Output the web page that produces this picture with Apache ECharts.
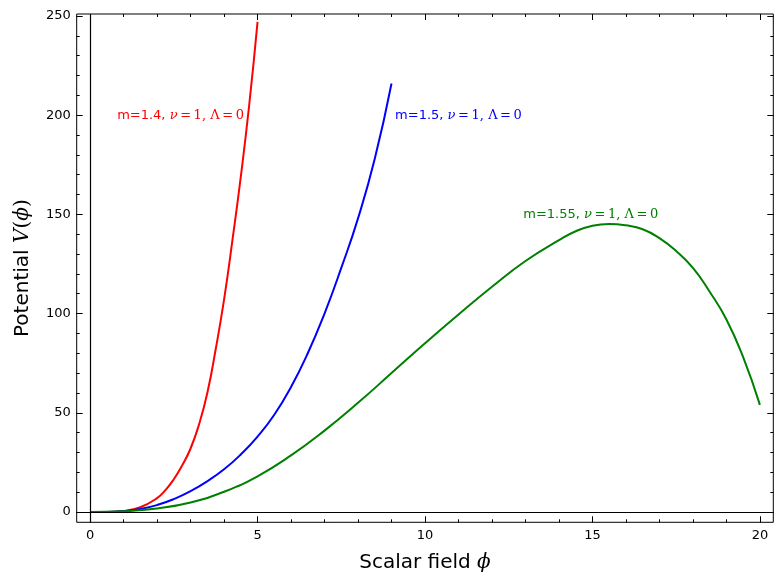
<!DOCTYPE html>
<html>
<head>
<meta charset="utf-8">
<script src="https://cdn.jsdelivr.net/npm/echarts@6/dist/echarts.min.js"></script>
<style>html,body{margin:0;padding:0;background:#fff}#c{width:782px;height:582px}</style>
</head>
<body>
<div id="c"></div>
<script>
// ---- data ----
const redX   = [0, 0.5, 1, 1.5, 2, 2.25, 2.5, 2.75, 3, 3.25, 3.5, 3.75, 4, 4.25, 4.5, 4.75, 5];
const redY   = [0, 0.04, 0.5, 2.4, 7, 11, 16.5, 23.5, 32, 44, 60, 82, 107, 137, 169, 205, 247];
const blueX  = [0, 0.5, 1, 1.5, 2, 2.5, 3, 3.5, 4, 4.5, 5, 5.5, 6, 6.5, 7, 7.5, 8, 8.5, 9];
const blueY  = [0, 0.05, 0.5, 1.5, 3.5, 6.5, 10.5, 15.5, 21.5, 29, 38, 49, 63, 80, 100, 123, 148, 178, 216];
const greenX = [0, 1, 2, 3, 4, 5, 6, 7, 8, 9, 10, 11, 12, 13, 14, 14.5, 15, 15.5, 16, 16.5, 17, 17.5, 18, 18.5, 19, 19.5, 20];
const greenY = [0, 0.4, 1.8, 4.8, 10.2, 18, 28.5, 41, 55, 70, 85, 99.5, 113.5, 126.5, 137, 141.5, 144.3, 145.2, 144.5, 142.5, 138, 131.5, 123, 111, 97, 78, 54];
const xMajorTicks = [0, 5, 10, 15, 20];
const xMinorTicks = [0,1,2,3,4,5,6,7,8,9,10,11,12,13,14,15,16,17,18,19,20];
const yMajorTicks = [0, 50, 100, 150, 200, 250];
const yMinorTicks = [0,10,20,30,40,50,60,70,80,90,100,110,120,130,140,150,160,170,180,190,200,210,220,230,240,250];
const labels = [
  {m: '1.4',  pos: [2.7, 200],  color: '#ff0000'},
  {m: '1.5',  pos: [11.0, 200], color: '#0000ff'},
  {m: '1.55', pos: [14.95, 150], color: '#008000'}
];
// --------------------------------------

const XMIN = -0.4, XMAX = 20.4, YMIN = -5.2, YMAX = 251;
const zip = (xs, ys) => xs.map((x, i) => [x, ys[i]]);
const TS = '\u2009';

function xAx(pos, ticks, len, showLabel, extra) {
  return Object.assign({
    type: 'value', min: XMIN, max: XMAX, position: pos,
    axisLine: {show: false, onZero: false},
    axisTick: {show: true, inside: true, length: len, customValues: ticks, lineStyle: {color: '#000', width: 1}},
    axisLabel: showLabel ? {show: true, customValues: xMajorTicks, color: '#000', fontSize: 13, fontFamily: 'DejaVu Sans', margin: 7} : {show: false},
    splitLine: {show: false}
  }, extra || {});
}
function yAx(pos, ticks, len, showLabel, extra) {
  return Object.assign({
    type: 'value', min: YMIN, max: YMAX, position: pos,
    axisLine: {show: false, onZero: false},
    axisTick: {show: true, inside: true, length: len, customValues: ticks, lineStyle: {color: '#000', width: 1}},
    axisLabel: showLabel ? {show: true, customValues: yMajorTicks, color: '#000', fontSize: 13, fontFamily: 'DejaVu Sans', margin: 6} : {show: false},
    splitLine: {show: false}
  }, extra || {});
}

function lbl(l) {
  return {
    symbol: 'circle', symbolSize: 0, silent: true,
    data: [{coord: l.pos}],
    label: {
      show: true, position: 'inside', color: l.color,
      formatter: '{a|m=' + l.m + ', }{b|ν}{c|' + TS + '=' + TS + '1, }{d|Λ}{c|' + TS + '=' + TS + '0}',
      rich: {
        a: {fontFamily: 'DejaVu Sans', fontSize: 13, color: l.color},
        b: {fontFamily: 'DejaVu Serif', fontStyle: 'italic', fontSize: 13, color: l.color},
        c: {fontFamily: 'DejaVu Serif', fontSize: 13, color: l.color},
        d: {fontFamily: 'DejaVu Serif', fontSize: 13, color: l.color}
      }
    }
  };
}

const chart = echarts.init(document.getElementById('c'), null, {renderer: 'canvas'});
chart.setOption({
  animation: false,
  backgroundColor: '#fff',
  grid: {left: 76.7, right: 8.7, top: 14, bottom: 59.7, show: true, borderColor: '#000', borderWidth: 1, backgroundColor: 'transparent', containLabel: false},
  xAxis: [
    xAx('bottom', xMinorTicks, 3, true, {
      name: '{a|Scalar field }{b|ϕ}', nameLocation: 'middle', nameGap: 30,
      nameTextStyle: {rich: {
        a: {fontFamily: 'DejaVu Sans', fontSize: 20, color: '#000'},
        b: {fontFamily: 'DejaVu Serif', fontStyle: 'italic', fontSize: 20, color: '#000'}
      }}
    }),
    xAx('bottom', xMajorTicks, 6, false),
    xAx('top', xMinorTicks, 3, false),
    xAx('top', xMajorTicks, 6, false)
  ],
  yAxis: [
    yAx('left', yMinorTicks, 3, true, {
      name: '{a|Potential }{b|V}{c|(}{b|ϕ}{c|)}', nameLocation: 'middle', nameGap: 44, nameRotate: 90,
      nameTextStyle: {rich: {
        a: {fontFamily: 'DejaVu Sans', fontSize: 20, color: '#000'},
        b: {fontFamily: 'DejaVu Serif', fontStyle: 'italic', fontSize: 20, color: '#000'},
        c: {fontFamily: 'DejaVu Serif', fontSize: 20, color: '#000'}
      }}
    }),
    yAx('left', yMajorTicks, 6, false),
    yAx('right', yMinorTicks, 3, false),
    yAx('right', yMajorTicks, 6, false)
  ],
  series: [
    {
      type: 'line', xAxisIndex: 0, yAxisIndex: 0, data: [], silent: true,
      markLine: {
        silent: true, symbol: 'none', animation: false,
        label: {show: false},
        lineStyle: {color: '#000', width: 1.2, type: 'solid'},
        data: [{xAxis: 0}, {yAxis: 0}]
      }
    },
    {type: 'line', data: zip(redX, redY), smooth: true, showSymbol: false, lineStyle: {color: '#ff0000', width: 2}, itemStyle: {color: '#ff0000'}, markPoint: lbl(labels[0])},
    {type: 'line', data: zip(blueX, blueY), smooth: true, showSymbol: false, lineStyle: {color: '#0000ff', width: 2}, itemStyle: {color: '#0000ff'}, markPoint: lbl(labels[1])},
    {type: 'line', data: zip(greenX, greenY), smooth: true, showSymbol: false, lineStyle: {color: '#008000', width: 2}, itemStyle: {color: '#008000'}, markPoint: lbl(labels[2])}
  ]
});
</script>
</body>
</html>
